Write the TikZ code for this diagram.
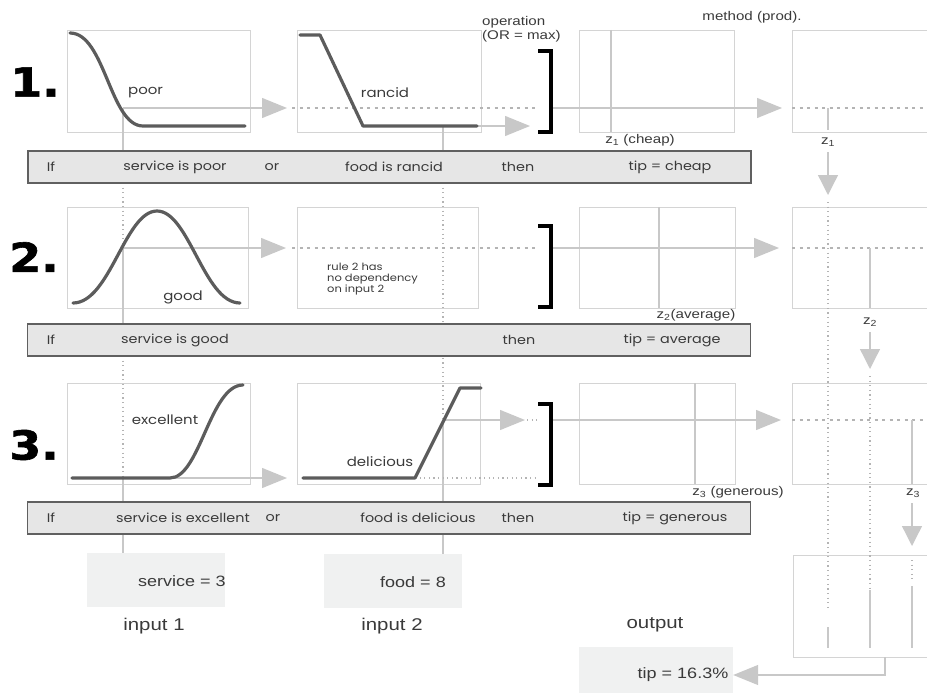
\documentclass[tikz,border=0pt]{standalone}
\usepackage{fontspec}
\setmainfont[FakeStretch=1.2]{Liberation Sans}
\newfontfamily\rulefont[FakeStretch=1.15]{Poppins}
\newfontfamily\numfont[FakeStretch=1.15,FakeBold=1.5]{DejaVu Sans}
\usetikzlibrary{arrows.meta}

\definecolor{boxgray}{HTML}{D4D4D4}
\definecolor{linegray}{HTML}{C8C8C8}
\definecolor{dotgray}{HTML}{B4B4B4}
\definecolor{curvegray}{HTML}{5C5C5C}
\definecolor{rulefill}{HTML}{E6E6E6}
\definecolor{ruleedge}{HTML}{606060}
\definecolor{infill}{HTML}{F0F1F1}
\definecolor{textgray}{HTML}{3A3A3A}

\tikzset{
  mfbox/.style={draw=boxgray, line width=0.8pt},
  mfcurve/.style={draw=curvegray, line width=3.2pt, line cap=round, line join=round},
  flow/.style={draw=linegray, line width=1.3pt},
  flowarrow/.style={flow, -{Triangle[length=25pt,width=20pt]}},
  droparrow/.style={flow, -{Triangle[length=20pt,width=20pt]}},
  dotline/.style={draw=dotgray, line width=1.1pt, dash pattern=on 1.2pt off 3.4pt},
  dashline/.style={draw=dotgray, line width=1.1pt, dash pattern=on 3pt off 4.5pt},
  bracket/.style={draw=black, line width=3.6pt},
  rulebox/.style={draw=ruleedge, fill=rulefill, line width=1.6pt,
    minimum width=723pt, minimum height=32pt, inner sep=0pt},
  inbox/.style={fill=infill, minimum width=138pt, minimum height=54pt, inner sep=0pt},
  rtext/.style={font=\rulefont\fontsize{12.5}{14}\selectfont, text=textgray, inner sep=0pt},
  mflabel/.style={font=\rulefont\fontsize{13}{15}\selectfont, text=textgray, inner sep=0pt},
  ztext/.style={font=\fontsize{12.6}{14}\selectfont, text=textgray, inner sep=0pt},
  iotext/.style={font=\fontsize{17}{19}\selectfont, text=textgray, inner sep=0pt},
  rulenum/.style={font=\numfont\bfseries\fontsize{40}{40}\selectfont, inner sep=0pt}
}

\begin{document}
\begin{tikzpicture}[x=1pt, y=-1pt]
    \useasboundingbox (0,0) rectangle (927,693);

    % rule numbers
    \node[rulenum] (n1) at (35,82) {1.};
    \node[rulenum] (n2) at (34,257) {2.};
    \node[rulenum] (n3) at (34,445) {3.};

    % membership function frames
    \draw[mfbox] (67,30) rectangle (250,132);
    \draw[mfbox] (297,30) rectangle (481,132);
    \draw[mfbox] (579,30) rectangle (734,132);
    \draw[mfbox] (792,30) rectangle (940,132);
    \draw[mfbox] (67,207) rectangle (248,308);
    \draw[mfbox] (297,207) rectangle (478,308);
    \draw[mfbox] (579,207) rectangle (735,308);
    \draw[mfbox] (792,207) rectangle (940,308);
    \draw[mfbox] (67,383) rectangle (250,484);
    \draw[mfbox] (297,383) rectangle (480,484);
    \draw[mfbox] (579,383) rectangle (735,484);
    \draw[mfbox] (792,383) rectangle (940,484);
    \draw[mfbox] (793,555) rectangle (940,657);

    % output singletons z1, z2, z3
    \draw[flow] (611,30) -- (611,132);
    \draw[flow] (659,207) -- (659,308);
    \draw[flow] (695,383) -- (695,484);

    % input 1 (service) and input 2 (food) lines
    \draw[flow] (123,108) -- (123,151);
    \draw[dotline] (123,183) -- (123,248);
    \draw[flow] (123,248) -- (123,324);
    \draw[dotline] (123,356) -- (123,478);
    \draw[flow] (123,478) -- (123,502);
    \draw[flow] (443,126) -- (443,151);
    \draw[dotline] (443,183) -- (443,420);
    \draw[flow] (443,420) -- (443,502);

    % rule 1
    \draw[flowarrow] (123,108) -- (287,108);
    \draw[dashline] (292,108) -- (538,108);
    \draw[flowarrow] (443,126) -- (530,126);
    \draw[flowarrow] (551,108) -- (782,108);
    \draw[dashline] (792,108) -- (927,108);
    \draw[flow] (828,108) -- (828,130);
    \draw[droparrow] (828,152) -- (828,195);

    % rule 2
    \draw[flowarrow] (123,248) -- (286,248);
    \draw[dashline] (292,248) -- (538,248);
    \draw[flowarrow] (551,248) -- (779,248);
    \draw[dashline] (792,248) -- (927,248);
    \draw[flow] (870,248) -- (870,308);
    \draw[droparrow] (870,332) -- (870,369);

    % rule 3
    \draw[flowarrow] (123,478) -- (287,478);
    \draw[flowarrow] (443,420) -- (525,420);
    \draw[dotline] (527,420) -- (538,420);
    \draw[dotline] (415,478) -- (538,478);
    \draw[flowarrow] (551,420) -- (781,420);
    \draw[dashline] (792,420) -- (927,420);
    \draw[flow] (912,420) -- (912,484);
    \draw[droparrow] (912,503) -- (912,546);

    % aggregation column
    \draw[dotline] (828,202) -- (828,610);
    \draw[flow] (828,627) -- (828,648);
    \draw[dotline] (870,376) -- (870,590);
    \draw[flow] (870,590) -- (870,648);
    \draw[dotline] (912,560) -- (912,579);
    \draw[flow] (912,586) -- (912,648);

    % membership curves
    \draw[mfcurve] (70,33) .. controls (105,33) and (110,126) .. (143,126) -- (245,126);
    \draw[mfcurve] (300,35) -- (320,35) -- (363,126) -- (477,126);
    \draw[mfcurve] (73,303) .. controls (110,303) and (125,211) .. (157,211)
        .. controls (189,211) and (204,303) .. (240,303);
    \draw[mfcurve] (72,478) -- (170,478) .. controls (200,478) and (210,385) .. (243,385);
    \draw[mfcurve] (303,478) -- (415,478) -- (460,388) -- (481,388);

    % OR = max brackets
    \draw[bracket] (538,51) -- (551,51) -- (551,132) -- (538,132);
    \draw[bracket] (538,226) -- (551,226) -- (551,307) -- (538,307);
    \draw[bracket] (538,404) -- (551,404) -- (551,485) -- (538,485);

    % rule boxes
    \node[rulebox] (rule1) at (389.5,167) {};
    \node[rulebox] (rule2) at (389,340) {};
    \node[rulebox] (rule3) at (389,518) {};

    \node[rtext] (if1) at (51,167) {If};
    \node[rtext] (ante11) at (175,167) {service is poor};
    \node[rtext] (or1) at (272,167) {or};
    \node[rtext] (ante12) at (394,167) {food is rancid};
    \node[rtext] (then1) at (518,167) {then};
    \node[rtext] (cons1) at (670,167) {tip = cheap};

    \node[rtext] (if2) at (51,340) {If};
    \node[rtext] (ante21) at (175,340) {service is good};
    \node[rtext] (then2) at (519,340) {then};
    \node[rtext] (cons2) at (672,340) {tip = average};

    \node[rtext] (if3) at (51,518) {If};
    \node[rtext] (ante31) at (183,518) {service is excellent};
    \node[rtext] (or3) at (273,518) {or};
    \node[rtext] (ante32) at (418,518) {food is delicious};
    \node[rtext] (then3) at (518,518) {then};
    \node[rtext] (cons3) at (675,518) {tip = generous};

    % curve labels
    \node[mflabel, anchor=west] (poor) at (128,93) {poor};
    \node[mflabel] (rancid) at (385,93) {rancid};
    \node[mflabel] (good) at (183,297) {good};
    \node[mflabel] (excellent) at (165,420) {excellent};
    \node[mflabel] (delicious) at (380,462) {delicious};
    \node[font=\rulefont\fontsize{10}{11}\selectfont, text=textgray, align=left,
        anchor=north west, inner sep=0pt] (nodep) at (327,263)
        {rule 2 has\\no dependency\\on input 2};

    % operation notes
    \node[ztext, align=left, anchor=north west] (ornote) at (482,16)
        {operation\\(OR = max)};
    \node[ztext] (prodnote) at (752,17) {method (prod).};
    \node[ztext] (z1c) at (640,140) {z\textsubscript{1} (cheap)};
    \node[ztext] (z2a) at (696,315) {z\textsubscript{2}(average)};
    \node[ztext] (z3g) at (738,492) {z\textsubscript{3} (generous)};
    \node[ztext] (z1) at (828,142) {z\textsubscript{1}};
    \node[ztext] (z2) at (870,322) {z\textsubscript{2}};
    \node[ztext] (z3) at (913,493) {z\textsubscript{3}};

    % inputs and output
    \node[inbox] (in1) at (156,580) {};
    \node[inbox] (in2) at (392.5,581) {};
    \node[inbox, minimum width=154pt] (out) at (656,674) {};
    \draw[flow] (rule3.south -| 123,0) -- (in1.north -| 123,0);
    \draw[flow] (rule3.south -| 443,0) -- (in2.north -| 443,0);
    \coordinate (agg) at (885,657);
    \draw[flowarrow] (agg) -- (885,675) -- (out.east |- 0,675);

    \node[iotext, font=\fontsize{15}{17}\selectfont] (svc) at (182,581) {service = 3};
    \node[iotext, font=\fontsize{15}{17}\selectfont] (fd) at (413,582) {food = 8};
    \node[iotext, font=\fontsize{15}{17}\selectfont] (tip) at (683,675) {tip = 16.3\%};
    \node[iotext] (lin1) at (154,626) {input 1};
    \node[iotext] (lin2) at (392,626) {input 2};
    \node[iotext] (lout) at (655,625) {output};

\end{tikzpicture}
\end{document}
